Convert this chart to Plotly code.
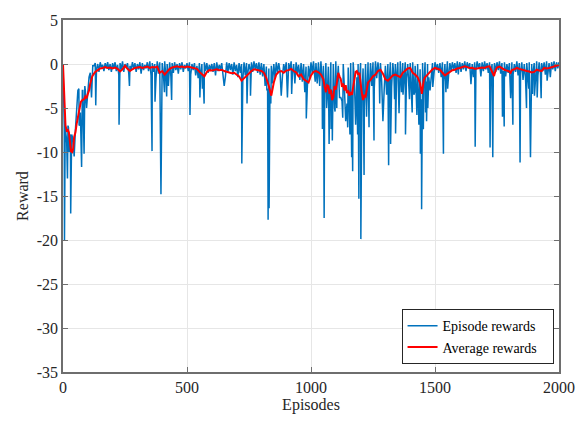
import plotly.graph_objects as go

# Upper edge of the episode-reward band, episodes 0, 10, ..., 2000
band_top = [
    0.0, -7.5, -7.0, -8.0, -8.5, -7.5, -3.0, -5.5, -3.0, -3.0, -2.5, -1.0, -0.2, 0.1, 0.0, 0.2, -0.1, 0.1, 0.2, 0.0,
    0.1, 0.2, -0.1, 0.1, 0.3, 0.0, 0.1, -0.2, 0.2, 0.1, 0.0, 0.2, 0.1, -0.1, 0.2, 0.3, 0.1, 0.0, 0.3, 0.2,
    0.1, 0.3, 0.0, 0.2, 0.1, 0.2, 0.0, 0.1, 0.2, -0.1, 0.1, 0.2, 0.0, 0.1, -0.2, 0.1, 0.0, 0.2, 0.1, -0.1,
    0.0, 0.1, 0.2, -0.1, 0.1, 0.0, 0.2, 0.1, 0.0, 0.2, -0.1, 0.1, 0.0, 0.2, 0.1, 0.0, 0.2, 0.3, 0.1, 0.2,
    0.1, 0.0, -0.3, -0.5, -0.2, 0.0, 0.2, 0.1, 0.3, 0.0, 0.2, 0.1, 0.3, 0.0, 0.2, -0.1, 0.1, 0.0, -0.3, -0.2,
    0.2, 0.3, 0.1, 0.2, 0.3, -0.2, 0.1, -0.3, 0.2, 0.0, 0.3, -0.2, 0.1, 0.0, 0.2, -0.4, 0.1, 0.2, 0.3, 0.0,
    0.1, -0.5, 0.0, 0.2, 0.1, 0.2, 0.3, 0.2, 0.1, 0.3, -0.2, 0.0, 0.2, 0.1, 0.0, 0.2, 0.3, 0.1, 0.2, 0.0,
    0.1, 0.2, -0.2, 0.0, -0.6, 0.1, 0.2, 0.0, 0.3, 0.1, 0.2, 0.0, 0.1, 0.2, 0.0, 0.3, 0.1, 0.2, 0.1, 0.3,
    0.2, 0.1, 0.3, 0.2, 0.1, 0.0, 0.2, 0.3, 0.1, 0.2, 0.3, 0.1, 0.2, 0.0, 0.1, 0.2, 0.3, 0.1, 0.2, 0.0,
    0.1, 0.2, 0.0, 0.3, 0.1, 0.2, 0.0, 0.1, 0.2, 0.0, 0.1, 0.3, 0.2, 0.1, 0.2, 0.3, 0.1, 0.2, 0.3, 0.2,
    0.2,
]

# Lower edge of the band, episodes 5, 15, ..., 1995
band_low = [
    -7.0, -9.0, -10.0, -11.0, -12.0, -6.0, -7.0, -5.0, -5.5, -4.5, -3.8, -2.0, -1.1, -0.6, -0.9, -0.4, -0.8, -0.5, -0.7, -0.9,
    -0.5, -0.8, -1.2, -0.6, -0.9, -0.4, -1.0, -0.7, -0.5, -0.9, -0.6, -1.1, -0.7, -0.5, -0.8, -1.3, -0.9, -1.6, -1.1, -1.8,
    -1.2, -1.5, -0.9, -1.4, -1.0, -0.7, -1.1, -0.6, -0.9, -0.5, -0.8, -1.2, -0.7, -1.3, -1.6, -1.1, -1.4, -0.8, -1.0, -0.7,
    -0.9, -1.3, -0.8, -0.6, -1.1, -1.4, -0.9, -0.7, -1.2, -0.8, -1.5, -1.0, -1.8, -1.3, -1.1, -0.7, -0.9, -0.6, -1.0, -1.2,
    -1.4, -2.0, -2.8, -3.0, -2.2, -1.6, -1.0, -0.8, -1.3, -0.9, -1.2, -0.7, -1.1, -1.5, -1.0, -1.8, -2.0, -2.5, -2.8, -1.6,
    -1.0, -1.4, -1.8, -2.5, -2.0, -3.5, -4.0, -4.5, -3.0, -5.0, -2.5, -3.8, -4.2, -3.0, -4.5, -5.0, -3.5, -2.0, -1.5, -2.2,
    -4.0, -5.0, -4.5, -3.0, -2.5, -2.8, -1.6, -1.2, -2.0, -3.0, -3.5, -2.2, -2.6, -1.8, -1.4, -2.8, -3.2, -2.0, -1.6, -2.5,
    -3.0, -3.5, -4.0, -4.5, -4.0, -2.5, -2.0, -1.5, -1.2, -0.9, -0.7, -1.0, -1.5, -2.0, -1.8, -1.2, -0.8, -0.6, -1.0, -0.7,
    -0.9, -0.6, -0.8, -0.5, -1.2, -1.5, -0.7, -0.5, -0.6, -0.8, -0.6, -1.0, -1.3, -1.6, -0.9, -0.7, -1.1, -0.8, -1.4, -1.0,
    -1.5, -1.2, -0.9, -1.3, -1.0, -1.8, -1.6, -2.0, -1.4, -1.1, -1.6, -1.3, -1.0, -0.8, -1.2, -0.7, -0.9, -0.6, -0.8, -0.5,
]

# Individual episodes that fall away from the band
dip_episodes = [
    3, 6, 9, 14, 18, 22, 26, 31, 35, 45, 55, 64, 68, 75, 78, 85, 88, 95, 105, 115, 125, 132,
    226, 268, 359, 371, 395, 409, 418, 425, 438, 512, 552, 562, 569, 650,
    721, 742, 756, 815, 822, 827, 831, 834, 838, 880, 905, 922, 935, 975, 981,
    1017, 1025, 1046, 1053, 1063, 1073, 1081, 1086, 1097, 1104, 1120, 1128, 1140, 1148, 1157, 1164, 1168,
    1180, 1188, 1193, 1201, 1214, 1224, 1234, 1254, 1277, 1290, 1313, 1321, 1337,
    1341, 1355, 1371, 1381, 1397, 1408, 1418, 1427, 1435, 1441, 1446, 1453, 1462, 1466, 1471, 1480, 1491,
    1534, 1544, 1551, 1594, 1645, 1662,
    1685, 1722, 1733, 1772, 1779, 1805, 1814, 1843, 1869, 1878, 1885, 1893, 1901, 1912, 1928, 1952, 1965,
]
dip_rewards = [
    -3.0, -20.0, -6.5, -8.5, -13.0, -7.2, -9.0, -17.0, -8.0, -10.5, -5.5, -2.8, -6.9, -11.7, -3.0, -10.2, -2.5, -5.0, -1.5, -3.8, -0.2, -4.7,
    -6.9, -2.5, -9.9, -4.3, -14.8, -3.2, -3.7, -2.5, -4.1, -5.8, -3.8, -2.8, -4.5, -2.5,
    -11.3, -4.5, -3.6, -2.5, -3.0, -17.7, -16.4, -4.7, -4.5, -3.6, -3.8, -3.4, -2.2, -3.2, -6.2,
    -2.0, -2.2, -7.4, -17.5, -5.0, -9.1, -7.4, -8.7, -5.4, -5.0, -3.8, -6.1, -6.5, -7.2, -8.0, -10.6, -12.2,
    -6.9, -8.0, -15.3, -19.9, -12.6, -6.0, -7.2, -8.7, -4.5, -6.5, -11.5, -9.1, -4.0,
    -7.9, -5.6, -3.5, -8.0, -4.0, -5.5, -3.2, -5.8, -6.9, -10.2, -16.5, -7.4, -5.5, -6.5, -5.0, -3.0, -2.6,
    -10.2, -3.2, -2.8, -1.2, -2.3, -9.4,
    -1.4, -9.5, -10.6, -6.0, -7.1, -3.9, -6.9, -11.2, -5.0, -2.8, -10.6, -3.4, -3.6, -3.8, -3.9, -1.9, -1.5,
]

# Running average of the rewards: (episode, average reward)
avg_points = [
    (0, 0.0), (4, -2.5), (10, -7.0), (15, -7.6), (20, -7.5), (24, -7.8), (28, -8.6), (32, -9.9), (37, -10.0), (41, -9.6),
    (45, -8.3), (50, -7.8), (55, -6.8), (59, -6.1), (65, -5.0), (72, -4.3), (78, -4.1), (85, -4.0), (90, -3.7), (95, -3.9),
    (100, -3.4), (105, -3.0), (110, -2.2), (118, -1.4), (125, -1.1), (130, -0.9), (140, -0.7), (150, -0.5), (160, -0.45), (170, -0.35),
    (180, -0.45), (190, -0.4), (200, -0.5), (210, -0.4), (220, -0.55), (230, -0.85), (240, -0.6), (250, -0.2), (260, -0.55), (270, -0.8),
    (280, -0.6), (290, -0.45), (300, -0.4), (310, -0.35), (320, -0.45), (330, -0.4), (340, -0.3), (350, -0.45), (360, -0.35), (370, -0.4),
    (380, -0.3), (390, -1.0), (400, -0.8), (410, -1.2), (420, -0.9), (430, -0.55), (440, -0.4), (450, -0.3), (460, -0.25), (470, -0.35),
    (480, -0.3), (490, -0.4), (500, -0.3), (510, -0.35), (520, -0.4), (530, -0.5), (540, -0.55), (550, -0.9), (560, -1.1), (570, -1.4),
    (580, -0.9), (590, -0.7), (600, -0.75), (610, -0.65), (620, -0.6), (630, -0.7), (640, -0.65), (650, -0.8), (660, -0.9), (670, -1.0),
    (680, -1.05), (690, -1.0), (700, -1.2), (710, -1.4), (720, -1.9), (730, -1.6), (740, -1.4), (750, -1.0), (760, -0.8), (770, -0.6),
    (780, -0.65), (790, -0.7), (800, -0.8), (810, -1.0), (820, -1.6), (830, -2.5), (840, -3.6), (850, -2.1), (860, -1.2), (870, -0.9),
    (880, -0.8), (890, -1.0), (900, -0.75), (910, -0.7), (920, -0.55), (930, -0.8), (940, -0.95), (950, -1.4), (960, -1.2), (970, -1.7),
    (980, -1.9), (990, -2.1), (1000, -1.3), (1010, -0.9), (1020, -0.8), (1030, -0.95), (1040, -1.2), (1050, -1.7), (1055, -2.6), (1060, -3.2),
    (1065, -2.4), (1070, -2.5), (1075, -3.4), (1080, -2.9), (1085, -4.1), (1090, -3.8), (1095, -2.5), (1100, -2.9), (1105, -2.0), (1110, -1.0),
    (1115, -1.4), (1120, -1.7), (1125, -2.6), (1130, -2.2), (1135, -3.0), (1140, -2.4), (1145, -3.3), (1150, -3.0), (1155, -3.6), (1160, -3.2),
    (1165, -3.5), (1170, -2.5), (1175, -1.8), (1180, -0.9), (1185, -0.8), (1190, -1.2), (1195, -1.0), (1200, -2.5), (1205, -3.3), (1210, -4.1),
    (1215, -3.6), (1220, -3.7), (1225, -2.8), (1230, -2.1), (1240, -1.8), (1250, -1.4), (1260, -1.2), (1270, -0.8), (1280, -0.65), (1290, -1.1),
    (1300, -1.75), (1310, -1.9), (1320, -1.6), (1330, -1.3), (1340, -1.2), (1350, -1.4), (1360, -1.5), (1370, -1.0), (1380, -0.8), (1390, -0.5),
    (1400, -0.45), (1410, -1.0), (1420, -1.2), (1430, -1.5), (1440, -2.2), (1447, -3.4), (1455, -1.8), (1460, -1.5), (1470, -1.2), (1480, -0.9),
    (1490, -0.6), (1500, -0.45), (1510, -0.55), (1520, -0.65), (1530, -1.0), (1540, -1.3), (1550, -1.1), (1560, -0.85), (1570, -0.7), (1580, -0.65),
    (1590, -0.5), (1600, -0.45), (1610, -0.35), (1620, -0.26), (1630, -0.35), (1640, -0.45), (1650, -0.44), (1660, -0.55), (1670, -0.5), (1680, -0.45),
    (1690, -0.4), (1700, -0.45), (1710, -0.3), (1720, -0.26), (1730, -0.95), (1738, -1.36), (1745, -0.65), (1750, -0.4), (1760, -0.3), (1770, -0.5),
    (1780, -0.65), (1790, -0.75), (1800, -0.85), (1805, -1.0), (1810, -0.7), (1820, -0.6), (1830, -0.45), (1840, -0.55), (1850, -0.65), (1860, -0.7),
    (1870, -0.8), (1880, -0.85), (1890, -0.95), (1900, -0.9), (1910, -0.65), (1920, -0.75), (1930, -0.8), (1940, -0.45), (1950, -0.5), (1960, -0.45),
    (1970, -0.35), (1980, -0.3), (1990, -0.2), (2000, -0.1),
]
avg_episodes = [p[0] for p in avg_points]
avg_rewards = [p[1] for p in avg_points]

x_ticks = [0, 500, 1000, 1500, 2000]
y_ticks = [5, 0, -5, -10, -15, -20, -25, -30, -35]

# Interleave the band edges, then lay the individual dips over them
series = {10 * i: v for i, v in enumerate(band_top)}
series.update({10 * i + 5: v for i, v in enumerate(band_low)})
series.update(dict(zip(dip_episodes, dip_rewards)))
ep_x = sorted(series)
ep_y = [series[e] for e in ep_x]

FONT = "Liberation Serif, Times New Roman, serif"
AXIS_COLOR = "#6e6e6e"
TEXT_COLOR = "#262626"
GRID_COLOR = "#e6e6e6"
PAD = "\u00a0" * 3

fig = go.Figure()
fig.add_trace(go.Scatter(
    x=ep_x, y=ep_y, mode="lines", name="Episode rewards" + PAD,
    line=dict(color="#0072BD", width=1.5),
))
fig.add_trace(go.Scatter(
    x=avg_episodes, y=avg_rewards, mode="lines", name="Average rewards" + PAD,
    line=dict(color="#FF0000", width=2),
))

axis_common = dict(
    showline=True, linecolor=AXIS_COLOR, linewidth=1.5, mirror="ticks",
    ticks="inside", ticklen=5, tickcolor=AXIS_COLOR, tickwidth=1,
    showgrid=True, gridcolor=GRID_COLOR, gridwidth=1, zeroline=False,
    tickfont=dict(family=FONT, size=16, color=TEXT_COLOR),
)

fig.update_layout(
    width=587, height=421,
    margin=dict(l=63, r=25, t=16, b=43),
    paper_bgcolor="white", plot_bgcolor="white",
    font=dict(family=FONT, size=16, color=TEXT_COLOR),
    xaxis=dict(
        range=[0, 2000], tickvals=x_ticks, ticktext=[str(t) for t in x_ticks],
        title=dict(text="Episodes", font=dict(family=FONT, size=16), standoff=2),
        **axis_common,
    ),
    yaxis=dict(
        range=[-35, 5], tickvals=y_ticks, ticktext=[str(t) for t in y_ticks],
        title=dict(text="Reward", font=dict(family=FONT, size=16), standoff=4),
        **axis_common,
    ),
    legend=dict(
        x=0.989, y=0.022, xanchor="right", yanchor="bottom",
        bgcolor="white", bordercolor=TEXT_COLOR, borderwidth=1,
        font=dict(family=FONT, size=14, color="black"),
        itemwidth=30, tracegroupgap=0,
    ),
    showlegend=True,
)

fig.write_html("out.html")
